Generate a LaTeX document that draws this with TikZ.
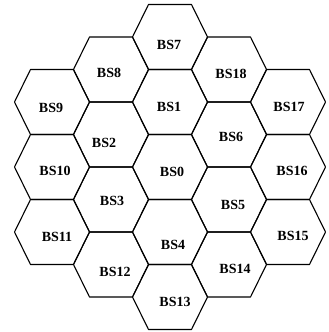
\documentclass[tikz,border=0pt]{standalone}
\usepackage{fontspec}
\setmainfont{Liberation Serif}
\begin{document}
\begin{tikzpicture}[x=1pt,y=-1pt,
  hexline/.style={draw=black,line width=1.1pt,line join=round},
  lbl/.style={font=\fontsize{14}{16}\selectfont\bfseries,inner sep=0pt}]
\useasboundingbox (0,0) rectangle (329,332);
% hex geometry: half-width 37.5, half top edge 21.5, half height 32.5
\foreach \cx/\cy in {52/102,52/167,52/232,
                     111/69.5,111/134.5,111/199.5,111/264.5,
                     170/37,170/102,170/167,170/232,170/297,
                     229/69.5,229/134.5,229/199.5,229/264.5,
                     288/102,288/167,288/232}{
  \draw[hexline] (\cx-37.5,\cy) -- (\cx-21.5,\cy-32.5) -- (\cx+21.5,\cy-32.5)
     -- (\cx+37.5,\cy) -- (\cx+21.5,\cy+32.5) -- (\cx-21.5,\cy+32.5) -- cycle;
}
\node[lbl] (bs7)  at (169,45)  {BS7};
\node[lbl] (bs8)  at (109,73)  {BS8};
\node[lbl] (bs18) at (231,74)  {BS18};
\node[lbl] (bs9)  at (51,108)  {BS9};
\node[lbl] (bs1)  at (169,107) {BS1};
\node[lbl] (bs17) at (289,107) {BS17};
\node[lbl] (bs2)  at (104,143) {BS2};
\node[lbl] (bs6)  at (231,137) {BS6};
\node[lbl] (bs0)  at (172,172) {BS0};
\node[lbl] (bs10) at (55,171)  {BS10};
\node[lbl] (bs16) at (292,171) {BS16};
\node[lbl] (bs3)  at (112,201) {BS3};
\node[lbl] (bs5)  at (233,205) {BS5};
\node[lbl] (bs11) at (57,237)  {BS11};
\node[lbl] (bs4)  at (173,245) {BS4};
\node[lbl] (bs15) at (293,236) {BS15};
\node[lbl] (bs12) at (115,272) {BS12};
\node[lbl] (bs14) at (235,269) {BS14};
\node[lbl] (bs13) at (175,302) {BS13};
\end{tikzpicture}
\end{document}
